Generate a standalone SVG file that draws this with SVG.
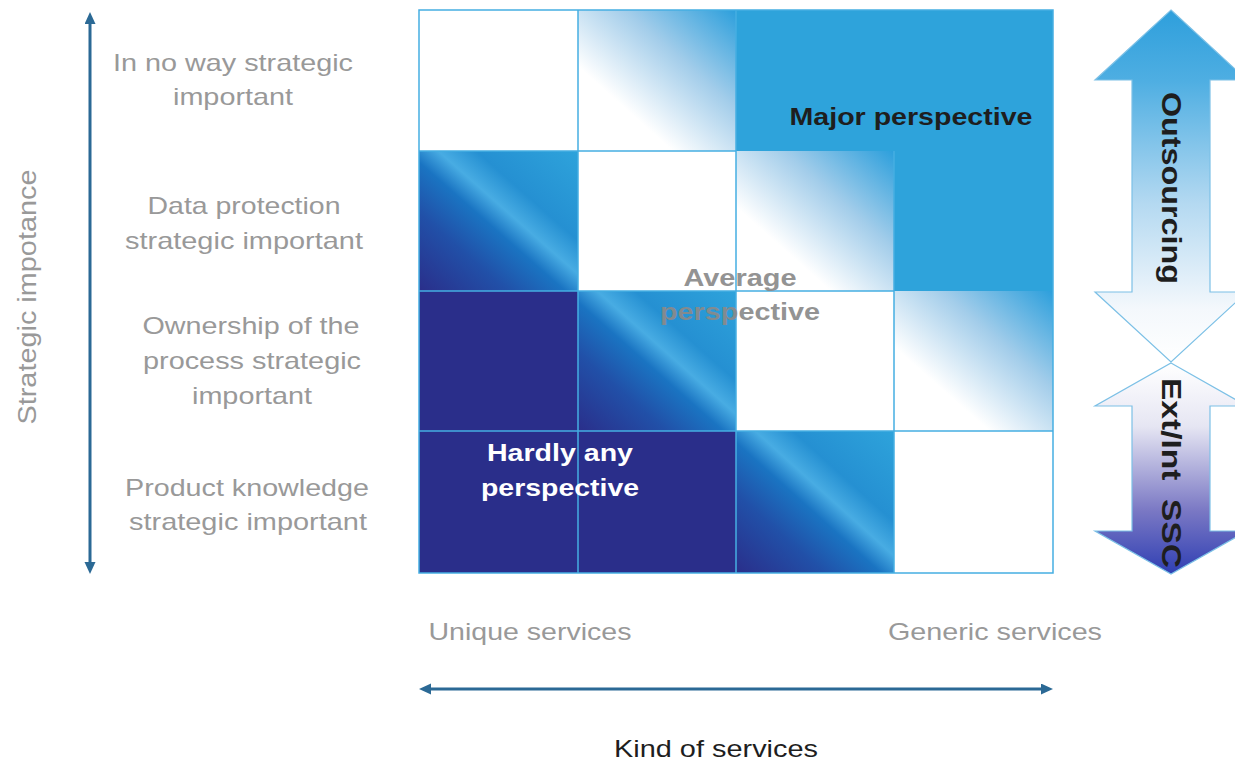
<svg xmlns="http://www.w3.org/2000/svg" width="1235" height="762" viewBox="0 0 1235 762">
<defs>
<style>
.lbl{font-family:"Liberation Sans",Arial,sans-serif;font-size:24px;fill:#999999;text-anchor:middle}
.bold{font-family:"Liberation Sans",Arial,sans-serif;font-size:24px;font-weight:bold;text-anchor:middle}
.axis{stroke:#2b6995;stroke-width:3;fill:none}
.grid{stroke:#45aee2;stroke-width:1.5;fill:none}
.blue{fill:#2ea3db}
.navy{fill:#2a2e8a}
.white{fill:#ffffff}
.wb{fill:url(#gWB)}
.nb{fill:url(#gNB)}
.side{stroke:#7cc0e6;stroke-width:1.2}
</style>
<linearGradient id="gWB" x1="0" y1="1" x2="1" y2="0">
<stop offset="0" stop-color="#ffffff"/>
<stop offset="0.3" stop-color="#ffffff"/>
<stop offset="0.65" stop-color="#a3cdea"/>
<stop offset="1" stop-color="#2c9fdc"/>
</linearGradient>
<linearGradient id="gNB" x1="0" y1="1" x2="1" y2="0">
<stop offset="0" stop-color="#2a2e8a"/>
<stop offset="0.28" stop-color="#2150a8"/>
<stop offset="0.46" stop-color="#1a74c2"/>
<stop offset="0.56" stop-color="#48ace3"/>
<stop offset="0.68" stop-color="#2590d2"/>
<stop offset="1" stop-color="#2ea3db"/>
</linearGradient>
<linearGradient id="gUp" x1="0" y1="0" x2="0" y2="1">
<stop offset="0" stop-color="#2e9fdc"/>
<stop offset="0.2" stop-color="#4eaee2"/>
<stop offset="0.55" stop-color="#b4d9f1"/>
<stop offset="0.85" stop-color="#f4f8fc"/>
<stop offset="1" stop-color="#ffffff"/>
</linearGradient>
<linearGradient id="gDn" x1="0" y1="0" x2="0" y2="1">
<stop offset="0" stop-color="#ffffff"/>
<stop offset="0.3" stop-color="#e6e6f3"/>
<stop offset="0.7" stop-color="#7a78c4"/>
<stop offset="1" stop-color="#2f3fb3"/>
</linearGradient>
<marker id="ah" markerUnits="userSpaceOnUse" markerWidth="14" markerHeight="12" refX="2" refY="5.5" orient="auto-start-reverse">
<path d="M0,0 L12,5.5 L0,11 z" fill="#2b6995"/>
</marker>
</defs>
<rect width="1235" height="762" fill="#ffffff"/>

<g id="matrix">
<rect class="white" x="419" y="10" width="159" height="141"/>
<rect class="wb" x="578" y="10" width="158" height="141"/>
<rect class="blue" x="736" y="10" width="317" height="141"/>
<rect class="nb" x="419" y="151" width="159" height="140"/>
<rect class="white" x="578" y="151" width="158" height="140"/>
<rect class="wb" x="736" y="151" width="158" height="140"/>
<rect class="blue" x="894" y="151" width="159" height="140"/>
<rect class="navy" x="419" y="291" width="159" height="282"/>
<rect class="nb" x="578" y="291" width="158" height="140"/>
<rect class="white" x="736" y="291" width="158" height="140"/>
<rect class="wb" x="894" y="291" width="159" height="140"/>
<rect class="navy" x="578" y="431" width="158" height="142"/>
<rect class="nb" x="736" y="431" width="158" height="142"/>
<rect class="white" x="894" y="431" width="159" height="142"/>
<path class="grid" d="M419,10 H1053 V573 H419 Z M578,10 V573 M736,10 V573 M894,151 V573 M419,151 H736 M419,291 H894 M419,431 H1053"/>
</g>

<g id="label-major"><text class="bold" x="911" y="125" fill="#1e1e1e" textLength="243" lengthAdjust="spacingAndGlyphs">Major perspective</text></g>
<g id="label-average" opacity="0.92">
<text class="bold" x="740" y="286" fill="#8a8a8a" textLength="113" lengthAdjust="spacingAndGlyphs">Average</text>
<text class="bold" x="740" y="320" fill="#8a8a8a" textLength="160" lengthAdjust="spacingAndGlyphs">perspective</text>
</g>
<g id="label-hardly">
<text class="bold" x="560" y="461" fill="#ffffff" textLength="146" lengthAdjust="spacingAndGlyphs">Hardly any</text>
<text class="bold" x="560" y="496" fill="#ffffff" textLength="158" lengthAdjust="spacingAndGlyphs">perspective</text>
</g>

<g id="row-labels">
<text class="lbl" x="233" y="71" textLength="240" lengthAdjust="spacingAndGlyphs">In no way strategic</text>
<text class="lbl" x="233" y="105" textLength="120" lengthAdjust="spacingAndGlyphs">important</text>
<text class="lbl" x="244" y="214" textLength="193" lengthAdjust="spacingAndGlyphs">Data protection</text>
<text class="lbl" x="244" y="249" textLength="238" lengthAdjust="spacingAndGlyphs">strategic important</text>
<text class="lbl" x="251" y="334" textLength="217" lengthAdjust="spacingAndGlyphs">Ownership of the</text>
<text class="lbl" x="252" y="369" textLength="218" lengthAdjust="spacingAndGlyphs">process strategic</text>
<text class="lbl" x="252" y="404" textLength="120" lengthAdjust="spacingAndGlyphs">important</text>
<text class="lbl" x="247" y="496" textLength="244" lengthAdjust="spacingAndGlyphs">Product knowledge</text>
<text class="lbl" x="248" y="530" textLength="238" lengthAdjust="spacingAndGlyphs">strategic important</text>
</g>

<g id="axis-labels">
<text class="lbl" transform="translate(36,297) rotate(-90)" x="0" y="0" style="font-size:26px" textLength="255" lengthAdjust="spacingAndGlyphs">Strategic impotance</text>
<text class="lbl" x="530" y="640" textLength="203" lengthAdjust="spacingAndGlyphs">Unique services</text>
<text class="lbl" x="995" y="640" textLength="214" lengthAdjust="spacingAndGlyphs">Generic services</text>
<text class="lbl" x="716" y="757" style="fill:#1e1e1e" textLength="204" lengthAdjust="spacingAndGlyphs">Kind of services</text>
</g>

<g id="outsourcing-arrow">
<polygon class="side" fill="url(#gUp)" points="1171,10 1247,80 1210,80 1210,292 1247,292 1171,362 1095,292 1132,292 1132,80 1095,80"/>
<text class="bold" transform="translate(1162,188) rotate(90)" x="0" y="0" fill="#1e1e1e" style="font-size:28px" textLength="192" lengthAdjust="spacingAndGlyphs">Outsourcing</text>
</g>
<g id="ssc-arrow">
<polygon class="side" fill="url(#gDn)" points="1171,363 1247,406 1210,406 1210,531 1247,531 1171,574 1095,531 1132,531 1132,406 1095,406"/>
<text class="bold" transform="translate(1162,473) rotate(90)" x="0" y="0" fill="#1e1e1e" style="font-size:28px;white-space:pre" textLength="190" lengthAdjust="spacingAndGlyphs">Ext/Int  SSC</text>
</g>

<g id="connectors">
<line class="axis" x1="90" y1="22" x2="90" y2="564" marker-start="url(#ah)" marker-end="url(#ah)"/>
<line class="axis" x1="429" y1="689" x2="1043" y2="689" marker-start="url(#ah)" marker-end="url(#ah)"/>
</g>
</svg>
